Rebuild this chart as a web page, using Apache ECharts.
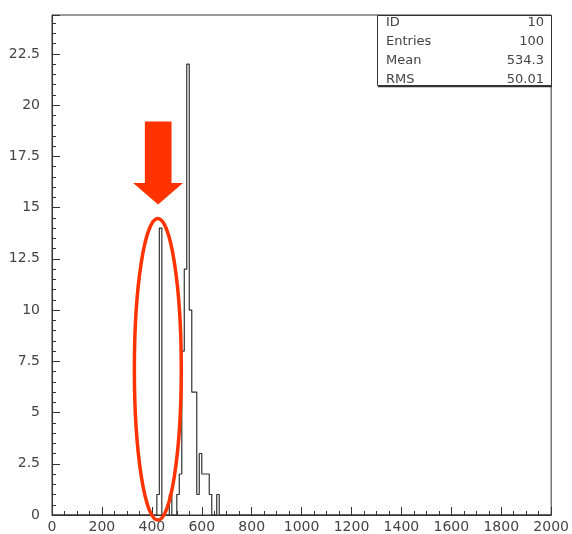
<!DOCTYPE html>
<html><head><meta charset="utf-8">
<script src="https://cdn.jsdelivr.net/npm/echarts@6/dist/echarts.min.js"></script>
<style>html,body{margin:0;padding:0;background:#fff}#c{width:572px;height:534px}</style>
</head><body><div id="c"></div>
<script>
// ---- data ----
const binWidth = 10;
const xMin = 0, xMax = 2000;
const binStarts = [420, 430, 470, 500, 510, 520, 530, 540, 550, 560, 570, 580, 590, 600, 610, 620, 630, 660];
const binCounts = [1, 14, 1, 1, 2, 8, 12, 22, 10, 6, 6, 1, 3, 2, 2, 2, 1, 1];
const yMax = 24.4;
const statLabels = ['ID', 'Entries', 'Mean', 'RMS'];
const statValues = ['10', '100', '534.3', '50.01'];
// annotation anchors (data coordinates)
const arrowTip = [425, 15.15];
const arrowHeadBaseY = 16.2;
const arrowHeadX = [325, 525];
const arrowShaftX = [372, 479];
const arrowShaftTopY = 19.2;
const ellipseCenter = [424, 7.11];
const ellipseRadii = [94, 7.36];

// ---- build step outline from bins ----
const countMap = {};
binStarts.forEach((s, i) => { countMap[s] = binCounts[i]; });
const stepData = [];
for (let x = xMin; x < xMax; x += binWidth) stepData.push([x, countMap[x] || 0]);
stepData.push([xMax, 0]);

const font = 'DejaVu Sans, Verdana, sans-serif';
const txt = '#444';
const chart = echarts.init(document.getElementById('c'), null, {renderer: 'canvas'});
chart.setOption({
  animation: false,
  backgroundColor: '#fff',
  grid: {left: 52, right: 20, top: 15, bottom: 18, show: true, borderColor: '#333', borderWidth: 1, backgroundColor: '#fff'},
  xAxis: {
    type: 'value', min: xMin, max: xMax, interval: 200,
    axisLine: {show: true, lineStyle: {color: '#333'}},
    axisTick: {show: true, inside: true, length: 8, lineStyle: {color: '#333'}},
    minorTick: {show: true, splitNumber: 4, length: 4, lineStyle: {color: '#333'}},
    splitLine: {show: false},
    axisLabel: {color: txt, fontFamily: font, fontSize: 14, margin: 5, formatter: (v) => String(v)}
  },
  yAxis: {
    type: 'value', min: 0, max: yMax, interval: 2.5,
    axisLine: {show: true, lineStyle: {color: '#333'}},
    axisTick: {show: true, inside: true, length: 8, lineStyle: {color: '#333'}},
    minorTick: {show: true, splitNumber: 5, length: 4, lineStyle: {color: '#333'}},
    splitLine: {show: false},
    axisLabel: {color: txt, fontFamily: font, fontSize: 14, margin: 12, showMaxLabel: false, formatter: (v) => String(v)}
  },
  series: [{
    type: 'line', step: 'end', data: stepData, showSymbol: false, symbol: 'none',
    lineStyle: {color: '#333', width: 1.2}, z: 3
  }]
});

const P = (p) => chart.convertToPixel({gridIndex: 0}, p);
const red = '#ff3300';
const tip = P(arrowTip);
const hl = P([arrowHeadX[0], arrowHeadBaseY]);
const hr = P([arrowHeadX[1], arrowHeadBaseY]);
const sl = P([arrowShaftX[0], arrowHeadBaseY]);
const sr = P([arrowShaftX[1], arrowHeadBaseY]);
const stl = P([arrowShaftX[0], arrowShaftTopY]);
const str = P([arrowShaftX[1], arrowShaftTopY]);
const ec = P(ellipseCenter);
const er = P([ellipseCenter[0] + ellipseRadii[0], ellipseCenter[1] + ellipseRadii[1]]);

const g = [
  {type: 'polygon', z: 10, shape: {points: [stl, str, sr, hr, tip, hl, sl]}, style: {fill: red}},
  {type: 'ellipse', z: 10, shape: {cx: ec[0], cy: ec[1], rx: er[0] - ec[0], ry: ec[1] - er[1]}, style: {fill: 'none', stroke: red, lineWidth: 3.5}},
  {type: 'rect', z: 11, shape: {x: 377.5, y: 15.5, width: 174, height: 70}, style: {fill: '#fff', stroke: '#333', lineWidth: 1}},
  {type: 'line', z: 12, shape: {x1: 378, y1: 86.5, x2: 552, y2: 86.5}, style: {stroke: '#333', lineWidth: 1.5}}
];
statLabels.forEach((t, i) => {
  const y = 23 + i * 18.8;
  g.push({type: 'text', z: 12, style: {text: t, x: 386, y: y, fill: txt, font: '13px ' + font, textAlign: 'left', textVerticalAlign: 'middle'}});
  g.push({type: 'text', z: 12, style: {text: statValues[i], x: 544, y: y, fill: txt, font: '13px ' + font, textAlign: 'right', textVerticalAlign: 'middle'}});
});
chart.setOption({graphic: g});
</script></body></html>
